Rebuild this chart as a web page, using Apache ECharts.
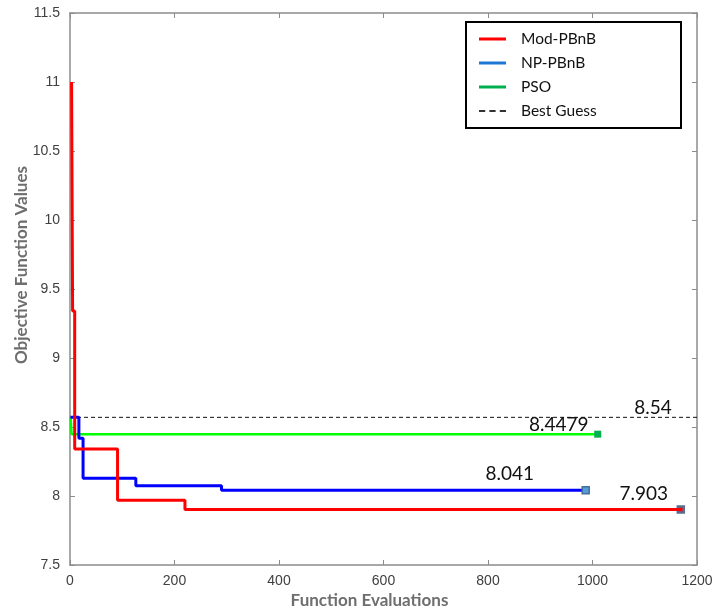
<!DOCTYPE html>
<html>
<head>
<meta charset="utf-8">
<script src="https://cdn.jsdelivr.net/npm/echarts@6/dist/echarts.min.js"></script>
<style>
  html, body { margin: 0; padding: 0; background: #fff; }
  #chart { width: 712px; height: 610px; }
</style>
</head>
<body>
<div id="chart"></div>
<script>
// step points: evaluations and best value so far
const modEvals = [3, 5, 9, 91, 220, 1169]
const modValues = [11.0, 9.34, 8.341, 7.969, 7.903, 7.903]
const npEvals = [1, 17, 25, 126, 290, 987]
const npValues = [8.57, 8.418, 8.128, 8.075, 8.041, 8.041]
const psoEvals = [1, 3, 1010]
const psoValues = [8.57, 8.448, 8.448]
const bestGuessValue = 8.57
const bestGuessLabel = '8.54'
const finalLabels = { mod: '7.903', np: '8.041', pso: '8.4479' }
const xTicks = { min: 0, max: 1200, interval: 200 }
const yTicks = { min: 7.5, max: 11.5, interval: 0.5 }

const zip = (xs, ys) => xs.map((x, i) => [x, ys[i]])
const last = arr => arr[arr.length - 1]

const axisGray = '#8c8c8c'
const noteFont = { color: '#111', fontSize: 19, fontFamily: 'Lato' }
const solidIcon = 'rect'
const dashIcon = 'path://M0,0H6V2H0Z M10,0H16V2H10Z M20,0H26V2H20Z'

// end marker + value label on the final point of a run
function endMark(point, text, fill, border, size, borderWidth, offset) {
  return {
    symbol: 'rect',
    symbolSize: size,
    silent: true,
    itemStyle: { color: fill, borderColor: border, borderWidth: borderWidth },
    label: Object.assign({ show: true, position: 'inside', formatter: text, offset: offset }, noteFont),
    data: [{ coord: point }],
  }
}

const chart = echarts.init(document.getElementById('chart'), null, { renderer: 'canvas' })

const frameAxis = {
  axisLine: { show: true, onZero: false, lineStyle: { color: axisGray, width: 1.5 } },
  axisTick: { show: true, inside: true, length: 5, lineStyle: { color: axisGray, width: 1 } },
  splitLine: { show: false },
}

chart.setOption({
  backgroundColor: '#fff',
  animation: false,
  grid: { left: 70, right: 15, top: 13, bottom: 45, containLabel: false, outerBoundsMode: 'none' },
  legend: {
    orient: 'vertical',
    left: 466,
    top: 22,
    padding: [9, 10, 9, 13],
    itemGap: 8,
    itemWidth: 27,
    itemHeight: 3,
    borderColor: '#000',
    borderWidth: 2,
    backgroundColor: '#fff',
    z: 10,
    textStyle: {
      fontFamily: 'Lato', fontSize: 15.5, color: '#111', lineHeight: 16,
      width: 150, padding: [0, 0, 0, 10],
    },
    data: [
      { name: 'Mod-PBnB', icon: solidIcon, itemStyle: { color: '#ff0000' } },
      { name: 'NP-PBnB', icon: solidIcon, itemStyle: { color: '#1f77d4' } },
      { name: 'PSO', icon: solidIcon, itemStyle: { color: '#00b050' } },
      { name: 'Best Guess', icon: dashIcon, itemStyle: { color: '#333' } },
    ],
  },
  xAxis: [
    Object.assign({}, frameAxis, {
      type: 'value', position: 'bottom',
      min: xTicks.min, max: xTicks.max, interval: xTicks.interval,
      axisLabel: { color: '#404040', fontSize: 14, fontFamily: 'Liberation Sans', margin: 9, formatter: v => String(v) },
      name: 'Function Evaluations',
      nameLocation: 'middle',
      nameGap: 27,
      nameMoveOverlap: false,
      nameTextStyle: { color: '#6e6e6e', fontSize: 17, fontWeight: 'bold', fontFamily: 'Lato', padding: [0, 28, 0, 0] },
    }),
    Object.assign({}, frameAxis, {
      type: 'value', position: 'top',
      min: xTicks.min, max: xTicks.max, interval: xTicks.interval,
      axisLabel: { show: false },
    }),
  ],
  yAxis: [
    Object.assign({}, frameAxis, {
      type: 'value', position: 'left',
      min: yTicks.min, max: yTicks.max, interval: yTicks.interval,
      axisLabel: { color: '#404040', fontSize: 14, fontFamily: 'Liberation Sans', margin: 10, formatter: v => String(v) },
      name: 'Objective Function Values',
      nameLocation: 'middle',
      nameGap: 40,
      nameMoveOverlap: false,
      nameTextStyle: { color: '#6e6e6e', fontSize: 17, fontWeight: 'bold', fontFamily: 'Lato', padding: [0, 0, 0, 48] },
    }),
    Object.assign({}, frameAxis, {
      type: 'value', position: 'right',
      min: yTicks.min, max: yTicks.max, interval: yTicks.interval,
      axisLabel: { show: false },
    }),
  ],
  series: [
    {
      name: 'Best Guess',
      type: 'line',
      symbol: 'none',
      z: 1,
      lineStyle: { color: '#111', width: 1, type: [4, 3] },
      itemStyle: { color: '#111' },
      data: [[xTicks.min, bestGuessValue], [xTicks.max, bestGuessValue]],
      markPoint: {
        symbol: 'rect', symbolSize: 1, silent: true,
        itemStyle: { color: 'rgba(0,0,0,0)' },
        label: Object.assign({ show: true, position: 'inside', formatter: bestGuessLabel, offset: [-44, -9] }, noteFont),
        data: [{ coord: [xTicks.max, bestGuessValue] }],
      },
    },
    {
      name: 'PSO',
      type: 'line',
      step: 'end',
      symbol: 'none',
      z: 3,
      lineStyle: { color: '#00ff00', width: 2.5 },
      itemStyle: { color: '#00ff00' },
      data: zip(psoEvals, psoValues),
      markPoint: endMark([last(psoEvals), last(psoValues)], finalLabels.pso, '#00b050', '#00b050', 7, 0, [-39, -9]),
    },
    {
      name: 'NP-PBnB',
      type: 'line',
      step: 'end',
      symbol: 'none',
      z: 4,
      lineStyle: { color: '#0000ff', width: 3 },
      itemStyle: { color: '#0000ff' },
      data: zip(npEvals, npValues),
      markPoint: endMark([last(npEvals), last(npValues)], finalLabels.np, '#5b9bd5', '#41719c', 7, 1.5, [-76, -16]),
    },
    {
      name: 'Mod-PBnB',
      type: 'line',
      step: 'end',
      symbol: 'none',
      z: 5,
      lineStyle: { color: '#ff0000', width: 3 },
      itemStyle: { color: '#ff0000' },
      data: zip(modEvals, modValues),
      markPoint: endMark([last(modEvals), last(modValues)], finalLabels.mod, '#ff0000', '#5a6f90', 6, 2.5, [-37, -16]),
    },
  ],
})
</script>
</body>
</html>
